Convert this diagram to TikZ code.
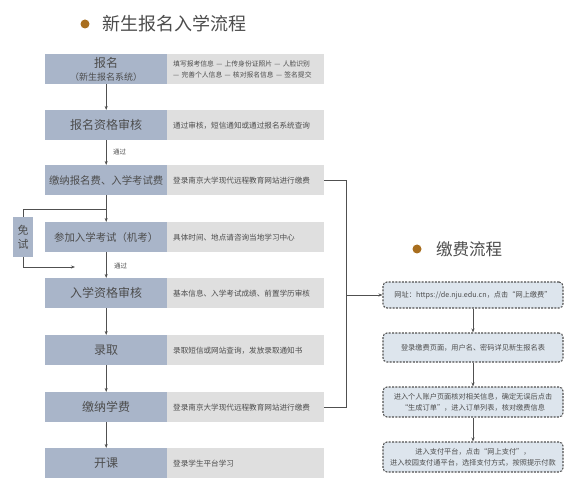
\documentclass[tikz,border=0pt]{standalone}
\usepackage{fontspec}
\setmainfont{Noto Sans CJK SC}
\usetikzlibrary{arrows.meta}
\definecolor{bluebox}{HTML}{A9B5C9}
\definecolor{graybox}{HTML}{DFDFDF}
\definecolor{txt}{HTML}{4D4D4D}
\definecolor{bulletc}{HTML}{A86E1E}
\definecolor{dashfill}{HTML}{DDE5ED}
\definecolor{linec}{HTML}{505050}
\tikzset{
  stepl/.style={anchor=north west, fill=bluebox, minimum width=122pt, minimum height=30pt, inner sep=0pt, text=txt, font=\fontsize{12}{14}\selectfont, align=center},
  stepr/.style={anchor=north west, fill=graybox, minimum height=30pt, inner xsep=6pt, inner ysep=0pt, text width=145pt, text=txt, font=\fontsize{7.6}{10}\selectfont, align=left},
  arr/.style={-{Stealth[length=4pt,width=3pt]}, draw=linec, line width=0.6pt},
  conn/.style={draw=linec, line width=0.6pt},
  lbl/.style={anchor=west, inner sep=0pt, text=txt, font=\fontsize{6.5}{8}\selectfont},
  dbox/.style={draw=linec, dash pattern=on 2pt off 1.3pt, line width=1.05pt, fill=dashfill, rounded corners=4pt, minimum width=180pt, inner sep=2pt, align=center, text=txt, font=\fontsize{7.2}{11}\selectfont},
  titletext/.style={anchor=west, inner sep=0pt, text=txt},
}
\begin{document}
\begin{tikzpicture}[x=1pt,y=-1pt]
\fill[white] (0,0) rectangle (579,500);
\useasboundingbox (0,0) rectangle (579,500);
% titles
\fill[bulletc] (85,24) circle (4.5pt);
\node[titletext, font=\fontsize{18}{20}\selectfont] (t1) at (102,24) {新生报名入学流程};
\fill[bulletc] (417,249) circle (4.5pt);
\node[titletext, font=\fontsize{16.5}{18}\selectfont] (t2) at (436,249) {缴费流程};
% left boxes
\node[stepl] (b1) at (45,54) {报名\\[-1pt]{\fontsize{9}{11}\selectfont（新生报名系统）}};
\node[stepr, font=\fontsize{6.8}{10.5}\selectfont] (r1) at (167,54) {填写报考信息 — 上传身份证照片 — 人脸识别\\— 完善个人信息 — 核对报名信息 — 签名提交};
\node[stepl] (b2) at (45,110) {报名资格审核};
\node[stepr] (r2) at (167,110) {通过审核，短信通知或通过报名系统查询};
\node[stepl, font=\fontsize{10.4}{13}\selectfont] (b3) at (45,165) {缴纳报名费、入学考试费};
\node[stepr] (r3) at (167,165) {登录南京大学现代远程教育网站进行缴费};
\node[stepl, font=\fontsize{10.4}{13}\selectfont] (b4) at (45,222) {参加入学考试（机考）};
\node[stepr] (r4) at (167,222) {具体时间、地点请咨询当地学习中心};
\node[stepl] (b5) at (45,278) {入学资格审核};
\node[stepr] (r5) at (167,278) {基本信息、入学考试成绩、前置学历审核};
\node[stepl] (b6) at (45,335) {录取};
\node[stepr] (r6) at (167,335) {录取短信或网站查询，发放录取通知书};
\node[stepl] (b7) at (45,392) {缴纳学费};
\node[stepr] (r7) at (167,392) {登录南京大学现代远程教育网站进行缴费};
\node[stepl] (b8) at (45,448) {开课};
\node[stepr] (r8) at (167,448) {登录学生平台学习};
% vertical arrows
\draw[arr] (b1.south) -- (b2.north);
\draw[arr] (b2.south) -- (b3.north);
\draw[arr] (b3.south) -- (b4.north);
\draw[arr] (b4.south) -- (b5.north);
\draw[arr] (b5.south) -- (b6.north);
\draw[arr] (b6.south) -- (b7.north);
\draw[arr] (b7.south) -- (b8.north);
\node[lbl] (p1) at (113,152) {通过};
\node[lbl] (p2) at (114,266) {通过};
% exemption
\node[anchor=north west, fill=bluebox, minimum width=20pt, minimum height=40pt, inner sep=0pt, text=txt, font=\fontsize{11}{14}\selectfont, align=center] (ms) at (13,217) {免\\试};
\coordinate (j1) at (106,209);
\coordinate (j2) at (75,267);
\draw[conn] (ms.north) |- (j1);
\draw[arr] (ms.south) |- (j2);
% right bracket
\coordinate (br) at (346,295);
\draw[conn] (r3.east) -- ++(22,0) |- (r7.east);
% payment flow
\node[dbox, minimum height=26pt] (d1) at (473,295) {网址：https://de.nju.edu.cn，点击“网上缴费”};
\node[dbox, minimum height=29pt] (d2) at (473,347.5) {登录缴费页面，用户名、密码详见新生报名表};
\node[dbox, minimum height=30pt] (d3) at (473,402) {进入个人账户页面核对相关信息，确定无误后点击\\“生成订单”，进入订单列表，核对缴费信息};
\node[dbox, minimum height=30pt] (d4) at (473,457) {进入支付平台，点击“网上支付”，\\进入校园支付通平台，选择支付方式，按照提示付款};
\draw[arr] (br) -- (d1.west);
\draw[arr] (d1.south) -- (d2.north);
\draw[arr] (d2.south) -- (d3.north);
\draw[arr] (d3.south) -- (d4.north);
\end{tikzpicture}
\end{document}
